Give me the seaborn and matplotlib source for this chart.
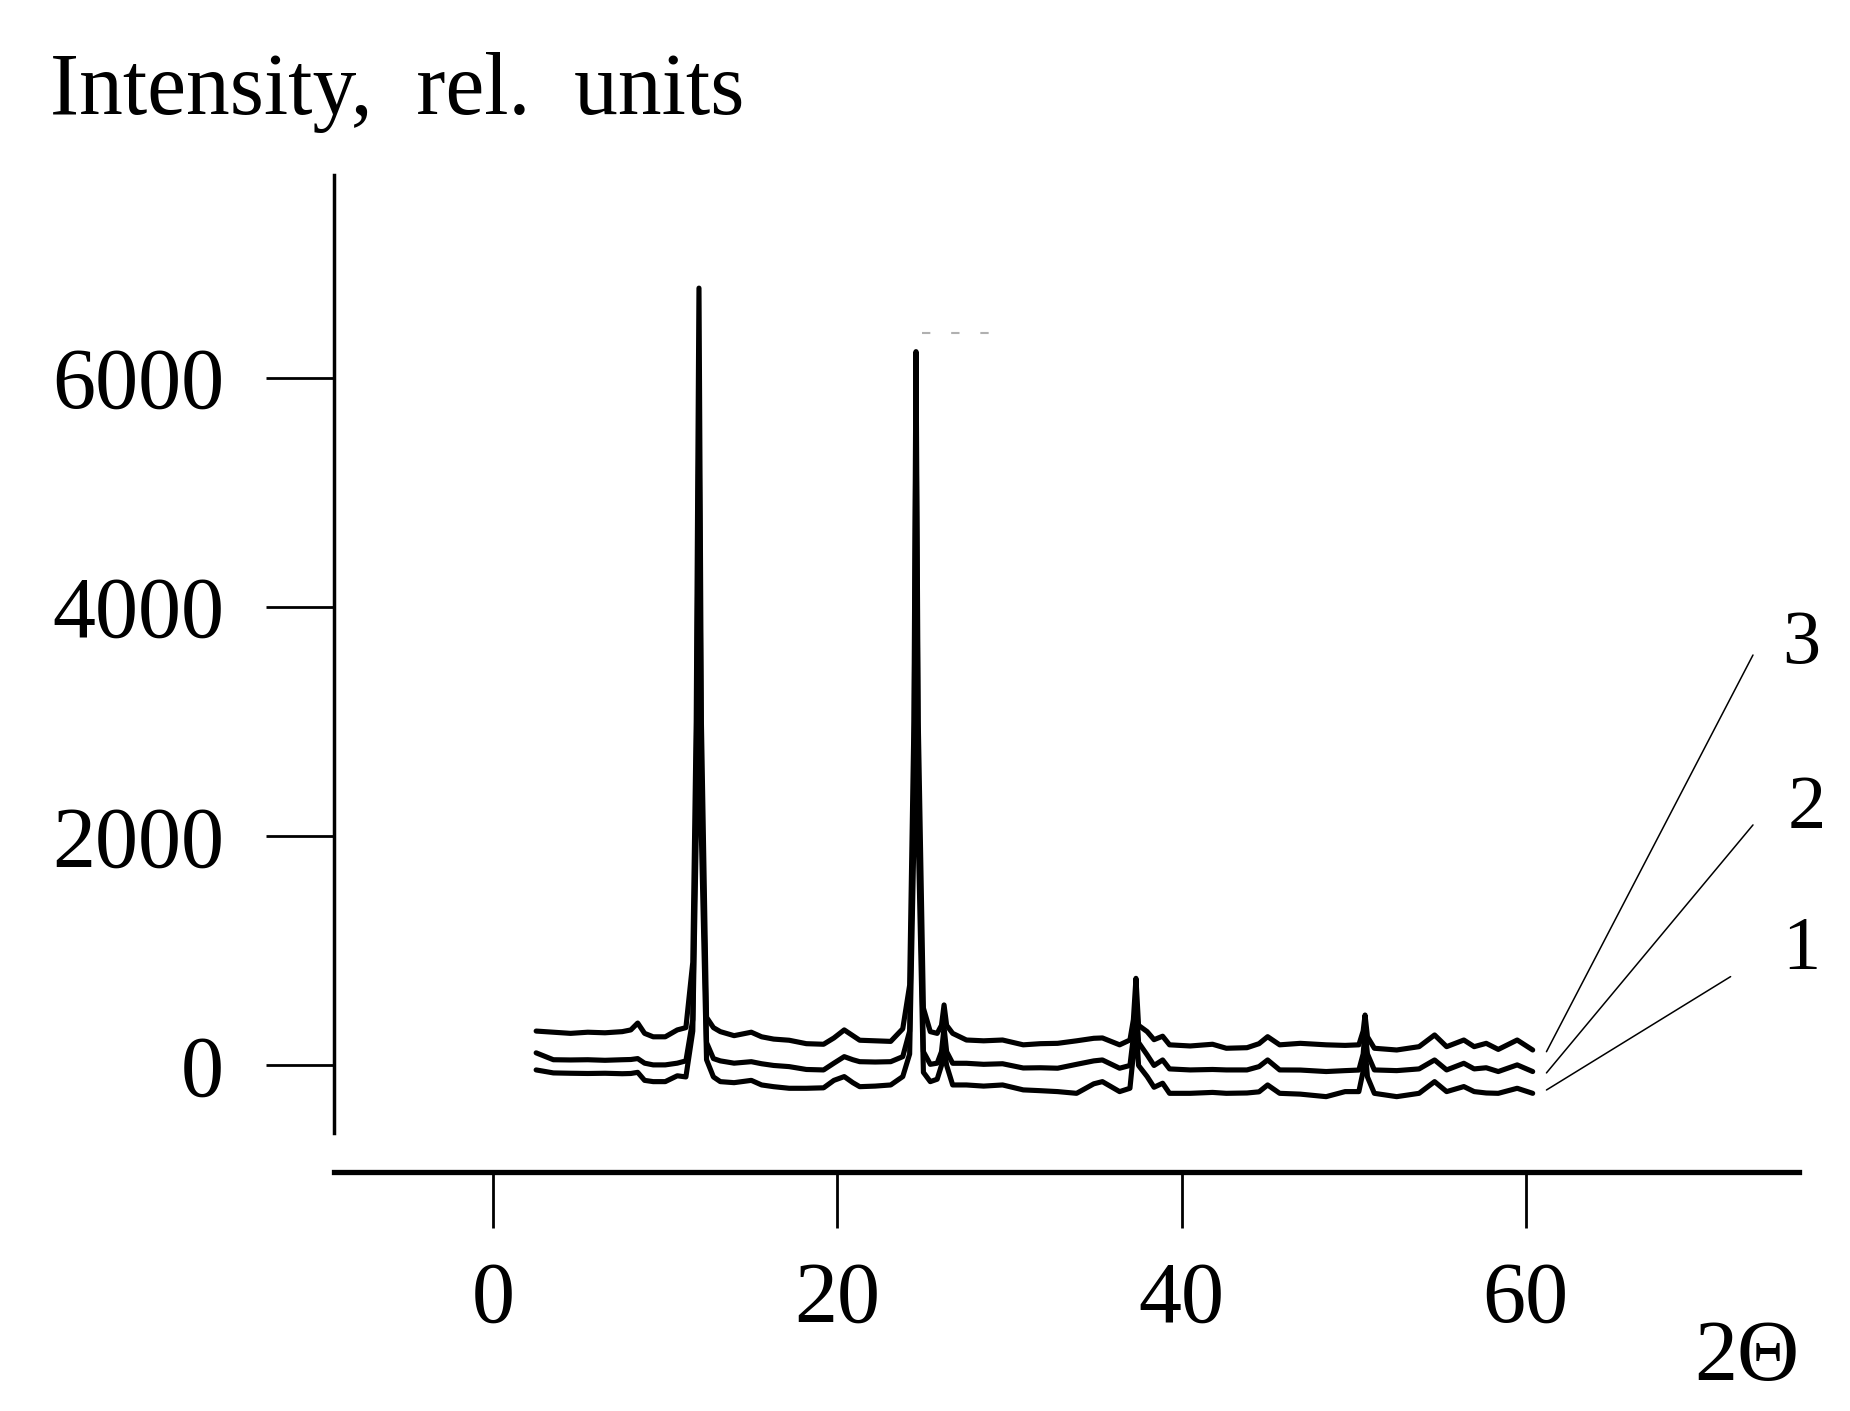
import numpy as np
import pandas as pd
import matplotlib
matplotlib.use("Agg")
import matplotlib.pyplot as plt
import seaborn as sns

# ---------------- data ----------------
two_theta = [2.5, 3.5, 4.5, 5.5, 6.5, 7.5, 8.0, 8.4, 8.8, 9.3, 10.0, 10.7, 11.2, 11.6, 11.8,
             11.96, 12.1, 12.4, 12.8, 13.2, 14.0, 15.0, 15.6, 16.3, 17.2, 18.2, 19.2, 19.8,
             20.4, 20.9, 21.3, 22.2, 23.1, 23.8, 24.2, 24.45, 24.57, 24.7, 25.0, 25.4, 25.8,
             26.05, 26.2, 26.35, 26.7, 27.5, 28.5, 29.6, 30.8, 31.8, 32.8, 33.9, 34.9, 35.4,
             36.4, 37.0, 37.2, 37.35, 37.5, 38.0, 38.4, 38.9, 39.3, 40.5, 41.8, 42.6, 43.8,
             44.5, 45.0, 45.7, 46.9, 48.4, 49.5, 50.3, 50.55, 50.66, 50.8, 51.2, 52.5, 53.8,
             54.7, 55.4, 56.4, 57.0, 57.7, 58.4, 59.5, 60.4]

curve3 = [300, 290, 280, 290, 285, 295, 310, 370, 280, 250, 250, 310, 330, 900, 3000,
          6780, 3000, 420, 330, 295, 260, 290, 250, 230, 220, 190, 185, 240,
          310, 260, 220, 215, 210, 320, 700, 3000, 6226, 3000, 500, 295, 280,
          350, 528, 350, 280, 222, 215, 222, 180, 190, 193, 215, 237, 240,
          180, 222, 400, 760, 350, 295, 225, 255, 180, 170, 185, 150, 155,
          190, 251, 180, 193, 180, 175, 180, 300, 440, 250, 150, 135, 164,
          266, 164, 222, 164, 193, 140, 222, 135]

curve2 = [110, 50, 48, 50, 45, 50, 52, 60, 20, 5, 5, 20, 40, 400, 2500,
          5780, 2500, 200, 60, 40, 20, 33, 15, 0, -10, -35, -39, 20,
          77, 50, 33, 30, 33, 77, 300, 2500, 5780, 2500, 120, 10, 20,
          120, 330, 120, 19, 19, 10, 15, -22, -20, -24, 10, 40, 48,
          -24, 0, 250, 600, 200, 92, 0, 48, -30, -39, -35, -39, -39,
          -10, 48, -39, -40, -53, -45, -40, 100, 300, 100, -39, -45, -30,
          48, -39, 19, -30, -20, -53, 5, -53]

curve1 = [-39, -65, -68, -70, -68, -72, -70, -60, -130, -141, -141, -90, -100, 300, 2000,
          4900, 2000, 50, -100, -141, -150, -130, -170, -185, -199, -199, -195, -130,
          -97, -150, -185, -180, -170, -97, 100, 2000, 3800, 2000, -60, -141, -120,
          0, 150, 0, -170, -170, -180, -170, -213, -220, -228, -243, -160, -141,
          -228, -199, 100, 400, 0, -97, -190, -155, -243, -243, -235, -243, -240,
          -230, -170, -243, -250, -272, -228, -228, -50, 150, -100, -243, -272, -243,
          -141, -228, -184, -228, -240, -243, -199, -243]

curve_names = ["1", "2", "3"]
# leader lines: start (near curve end) and end (near label), label positions
leader_x0 = [61.2, 61.2, 61.2]
leader_y0 = [-214, -65, 120]
leader_x1 = [71.9, 73.2, 73.2]
leader_y1 = [775, 2098, 3580]
label_x = [76.0, 76.3, 76.0]
label_y = [1005, 2233, 3668]

x_ticks = [0, 20, 40, 60]
y_ticks = [0, 2000, 4000, 6000]

artifact_x = [24.9, 29.2]
artifact_y = [6390, 6390]

# ---------------- figure ----------------
sns.set_style("ticks")
plt.rcParams["font.family"] = ["Liberation Serif", "DejaVu Serif"]
plt.rcParams["text.color"] = "black"
plt.rcParams["xtick.color"] = "black"
plt.rcParams["ytick.color"] = "black"

fig = plt.figure(figsize=(18.5, 14.11), dpi=100)
ax = fig.add_axes([0.1805, 0.1694, 0.9724 - 0.1805, 0.876 - 0.1694])

frames = []
for name, ys in zip(curve_names, [curve1, curve2, curve3]):
    frames.append(pd.DataFrame({"x": two_theta, "y": ys, "curve": name}))
df = pd.concat(frames, ignore_index=True)

for name in curve_names:
    sns.lineplot(data=df[df["curve"] == name], x="x", y="y", ax=ax,
                 color="black", linewidth=3.7, sort=False, estimator=None,
                 legend=False)

ax.plot(artifact_x, artifact_y, color="#b0b0b0", linewidth=1.5, ls=(0, (4, 10)))

for x0, y0, x1, y1, lx, ly, name in zip(leader_x0, leader_y0, leader_x1, leader_y1,
                                        label_x, label_y, curve_names):
    ax.plot([x0, x1], [y0, y1], color="black", linewidth=1.1, clip_on=False)
    ax.text(lx, ly, name, fontsize=55, ha="center", va="center", clip_on=False,
            color="black")

ax.set_xlim(-9.25, 75.87)
ax.set_ylim(-929, 7767)
ax.set_xticks(x_ticks)
ax.set_yticks(y_ticks)
ax.set_xlabel("")
ax.set_ylabel("")

for s in ["top", "right"]:
    ax.spines[s].set_visible(False)
ax.spines["left"].set_bounds(-589, 7767)
ax.spines["left"].set_linewidth(2.5)
ax.spines["bottom"].set_linewidth(3.8)
ax.spines["left"].set_color("black")
ax.spines["bottom"].set_color("black")

ax.tick_params(axis="y", direction="out", length=49, width=2.0, pad=30,
               labelsize=62, colors="black")
ax.tick_params(axis="x", direction="out", length=40, width=2.0, pad=24,
               labelsize=62, colors="black")

fig.text(0.027, 0.919, "Intensity,  rel.  units", fontsize=63, ha="left",
         va="baseline", color="black")
fig.text(0.944, 0.037, "2\u0398", fontsize=62, ha="center", va="center",
         color="black")

fig.savefig("out.png", dpi=100, facecolor="white")
